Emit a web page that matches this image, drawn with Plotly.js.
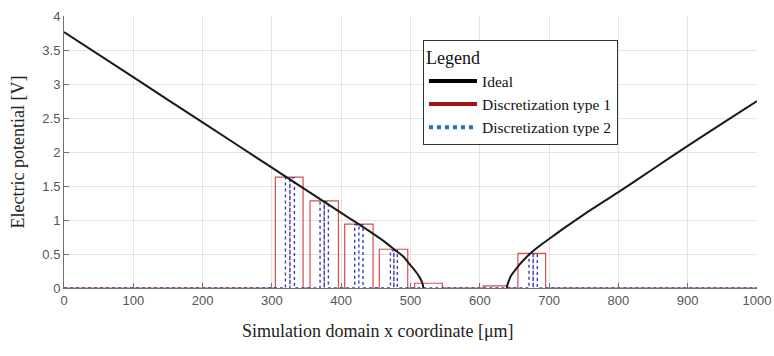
<!DOCTYPE html>
<html>
<head>
<meta charset="utf-8">
<script src="https://cdn.plot.ly/plotly-3.0.1.min.js"></script>
<style>
  html, body { margin: 0; padding: 0; background: #fff; }
  #chart { width: 774px; height: 356px; }
</style>
</head>
<body>
<div id="chart"></div>
<script>
// Ideal potential profile: left depletion branch and right branch (μm, V)
var idealLeftX  = [0, 100, 200, 300, 400, 440, 460, 480, 490, 497, 503, 509, 513, 516, 518, 518.5];
var idealLeftY  = [3.765, 3.10, 2.435, 1.77, 1.105, 0.84, 0.70, 0.54, 0.46, 0.37, 0.30, 0.22, 0.16, 0.10, 0.04, 0];
var idealRightX = [639, 640, 642, 645, 650, 656, 664, 672, 685, 700, 716, 750, 800, 850, 900, 950, 1000];
var idealRightY = [0, 0.05, 0.11, 0.18, 0.25, 0.33, 0.42, 0.50, 0.61, 0.72, 0.84, 1.08, 1.41, 1.75, 2.09, 2.42, 2.75];

// Discretization type 1: cell left edge, right edge, value
var type1Left   = [305, 355, 405, 455, 506, 605, 655];
var type1Right  = [345, 396, 446, 496, 546, 640, 695];
var type1Value  = [1.63, 1.28, 0.94, 0.57, 0.07, 0.03, 0.51];

// Discretization type 2: narrow cells (centre, half width, value)
var type2Center = [326, 375.5, 425.5, 476, 677];
var type2Half   = [6.5, 6, 6, 5, 6];
var type2Value  = [1.62, 1.27, 0.93, 0.55, 0.50];

var domain = [0, 1000];

// Step outline along the baseline with rectangular cells
function stepOutline1() {
  var x = [domain[0]], y = [0];
  for (var i = 0; i < type1Left.length; i++) {
    x.push(type1Left[i], type1Left[i], type1Right[i], type1Right[i]);
    y.push(0, type1Value[i], type1Value[i], 0);
  }
  x.push(domain[1]); y.push(0);
  return {x: x, y: y};
}
function stepOutline2() {
  var x = [domain[0]], y = [0];
  for (var i = 0; i < type2Center.length; i++) {
    var c = type2Center[i], w = type2Half[i], v = type2Value[i];
    x.push(c - w, c - w, c, c, c, c + w, c + w);
    y.push(0, v, v, 0, v, v, 0);
  }
  x.push(domain[1]); y.push(0);
  return {x: x, y: y};
}

var s1 = stepOutline1();
var s2 = stepOutline2();

var serif = 'Liberation Serif, Times New Roman, serif';

var traces = [
  {
    x: s1.x, y: s1.y, type: 'scatter', mode: 'lines',
    line: {color: 'rgb(210,80,80)', width: 1.2},
    showlegend: false, cliponaxis: false, hoverinfo: 'skip'
  },
  {
    x: s2.x, y: s2.y, type: 'scatter', mode: 'lines',
    line: {color: 'rgb(60,60,170)', width: 1.4, dash: 'dot'},
    showlegend: false, cliponaxis: false, hoverinfo: 'skip'
  },
  {
    x: idealLeftX.concat([null], idealRightX),
    y: idealLeftY.concat([null], idealRightY),
    type: 'scatter', mode: 'lines',
    line: {color: '#1a1a1a', width: 2, shape: 'spline', smoothing: 0.8},
    showlegend: false, cliponaxis: false, connectgaps: false
  },
  // legend entries
  {x: [null], y: [null], type: 'scatter', mode: 'lines', name: 'Ideal',
   line: {color: '#000000', width: 4}},
  {x: [null], y: [null], type: 'scatter', mode: 'lines', name: 'Discretization type 1',
   line: {color: '#a31515', width: 4}},
  {x: [null], y: [null], type: 'scatter', mode: 'lines', name: 'Discretization type 2',
   line: {color: '#2272b0', width: 4, dash: 'dot'}}
];

var tickFont = {family: 'Liberation Sans, Arial, sans-serif', size: 13, color: '#555555'};
var titleFont = {family: serif, size: 18, color: '#222222'};

var layout = {
  width: 774, height: 356,
  margin: {l: 64, r: 17, t: 16, b: 68},
  paper_bgcolor: '#ffffff', plot_bgcolor: '#ffffff',
  showlegend: true,
  xaxis: {
    range: domain, tickmode: 'linear', tick0: 0, dtick: 100,
    showgrid: true, gridcolor: '#e3e3e3', gridwidth: 1,
    zeroline: false, showline: true, linecolor: '#707070', linewidth: 1,
    ticks: 'inside', ticklen: 5, tickcolor: '#707070',
    tickfont: tickFont
  },
  yaxis: {
    range: [0, 4], tickmode: 'array',
    tickvals: [0, 0.5, 1, 1.5, 2, 2.5, 3, 3.5, 4],
    ticktext: ['0', '0.5', '1', '1.5', '2', '2.5', '3', '3.5', '4'],
    showgrid: true, gridcolor: '#e3e3e3', gridwidth: 1,
    zeroline: false, showline: true, linecolor: '#707070', linewidth: 1,
    ticks: 'inside', ticklen: 5, tickcolor: '#707070',
    tickfont: tickFont,
    title: {text: 'Electric potential [V]', font: titleFont, standoff: 13}
  },
  annotations: [{
    text: 'Simulation domain x coordinate [μm]',
    xref: 'paper', yref: 'paper', x: 0.453, y: -0.158,
    xanchor: 'center', yanchor: 'middle', showarrow: false,
    font: titleFont
  }],
  legend: {
    x: 0.518, y: 0.912, xanchor: 'left', yanchor: 'top',
    bgcolor: '#ffffff', bordercolor: '#333333', borderwidth: 1,
    font: {family: serif, size: 15.5, color: '#111111'},
    title: {text: 'Legend', side: 'top', font: {family: serif, size: 18, color: '#111111'}},
    itemwidth: 48
  }
};

Plotly.newPlot('chart', traces, layout, {displayModeBar: false, staticPlot: true});
</script>
</body>
</html>
